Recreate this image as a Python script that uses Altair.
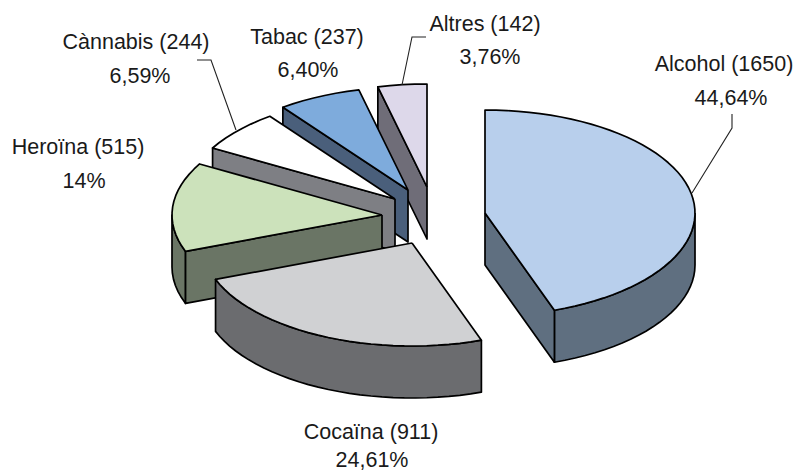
import math
import altair as alt
import pandas as pd

# Data
labels = ["Altres (142)", "Tabac (237)", "Cànnabis (244)", "Heroïna (515)", "Cocaïna (911)", "Alcohol (1650)"]
percents = ["3,76%", "6,40%", "6,59%", "14%", "24,61%", "44,64%"]
shares = [3.76, 6.40, 6.59, 14.0, 24.61, 44.64]
tops = ["#ddd8ea", "#7eabdc", "#ffffff", "#cce2bb", "#d0d1d3", "#b8cfec"]
sides = ["#6f6d78", "#4a5f7b", "#7e7f84", "#6a7565", "#6b6c6f", "#5f6f80"]

# Pie drawing geometry (reference pixels)
apex_x = [427, 408, 395, 382, 412, 485]
apex_y = [187, 190, 199, 215, 243, 213]
RX, RY, DEPTH = 210, 103, 52
label_x = [485, 307, 136, 78, 371, 724]
label_y = [25, 38, 43, 148, 433, 65]
pct_x = [490, 308, 140, 84, 372, 731]
pct_y = [58, 71, 77, 182, 461, 99]
leaders = [[(402, 85), (412, 37), (426, 37)],
           [(236, 130), (211, 60), (197, 60)],
           [(692, 193), (732, 128), (732, 114)]]

W, H = 786, 466
xs = alt.Scale(domain=[8, 8 + W], range=[0, W], nice=False, zero=False)
ys = alt.Scale(domain=[8, 8 + H], range=[0, H], nice=False, zero=False)
X = alt.X("x:Q", scale=xs, axis=None)
Y = alt.Y("y:Q", scale=ys, axis=None)


def pt(i, deg):
    t = math.radians(deg)
    return apex_x[i] + RX * math.sin(t), apex_y[i] - RY * math.cos(t)


def arc(i, a, b, step=3.0):
    n = max(1, int(abs(b - a) / step))
    return [pt(i, a + (b - a) * k / n) for k in range(n + 1)]


def poly(points, fill, width=1.7):
    pts = list(points) + [points[0]]
    df = pd.DataFrame({"x": [p[0] for p in pts], "y": [p[1] for p in pts], "i": range(len(pts))})
    return alt.Chart(df).mark_line(fill=fill, stroke="black", strokeWidth=width, strokeJoin="round", clip=False).encode(
        x=X, y=Y, order="i:Q")


# angles run clockwise from the top; Alcohol starts at 0
starts, ang = {}, 0.0
for i in [5, 4, 3, 2, 1, 0]:
    starts[i] = (ang, ang + shares[i] * 3.6)
    ang += shares[i] * 3.6

layers = []
for i in range(6):
    a, b = starts[i]
    ax, ay = apex_x[i], apex_y[i]
    # outer rim, front half only
    lo, hi = max(a, 90), min(b, 270)
    if hi > lo:
        rim = arc(i, lo, hi)
        layers.append(poly(rim + [(x, y + DEPTH) for x, y in reversed(rim)], sides[i]))
    # the cut face that looks towards the viewer (Cocaïna has none)
    if i != 4:
        ex, ey = pt(i, b if i == 5 else a)
        layers.append(poly([(ax, ay), (ex, ey), (ex, ey + DEPTH), (ax, ay + DEPTH)], sides[i]))
    layers.append(poly([(ax, ay)] + arc(i, a, b), tops[i]))

for path in leaders:
    df = pd.DataFrame({"x": [p[0] for p in path], "y": [p[1] for p in path], "i": range(len(path))})
    layers.append(alt.Chart(df).mark_line(stroke="#222222", strokeWidth=1.1).encode(x=X, y=Y, order="i:Q"))

text_df = pd.DataFrame({"x": label_x + pct_x, "y": label_y + pct_y, "t": labels + percents})
layers.append(alt.Chart(text_df).mark_text(font="Liberation Sans", fontSize=21.5, color="#1a1a1a", align="center", baseline="middle").encode(
    x=X, y=Y, text="t:N"))

chart = alt.layer(*layers).properties(
    width=W, height=H, padding=0, autosize=alt.AutoSizeParams(type="none")
).configure_view(stroke=None)
chart.save("out.html", embed_options={"renderer": "svg", "actions": False})
